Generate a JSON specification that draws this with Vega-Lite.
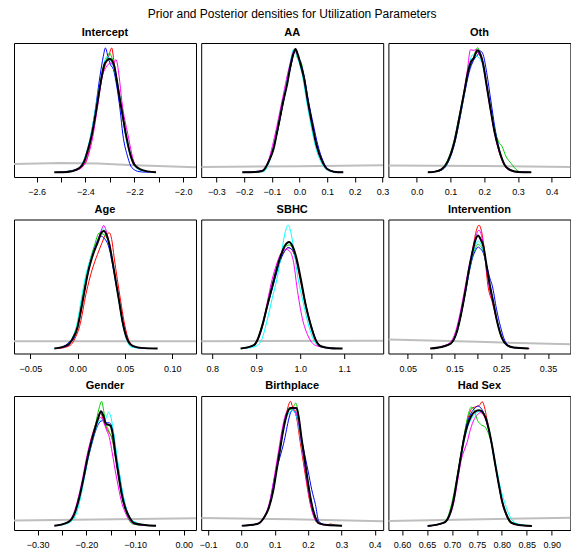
{
  "$schema": "https://vega.github.io/schema/vega-lite/v6.json",
  "padding": {"left": 13, "top": 7, "right": 0, "bottom": 0},
  "title": {"text": "Prior and Posterior densities for Utilization Parameters", "anchor": "middle", "fontSize": 12, "fontWeight": "normal", "font": "Liberation Sans", "color": "black", "offset": 6},
  "columns": 3,
  "bounds": "flush",
  "spacing": {"row": 42.5, "column": 5.2},
  "resolve": {"scale": {"x": "independent", "y": "independent"}},
  "datasets": {
    "Intercept": [
      {"c":0,"x":-2.693,"y":0.097},{"c":0,"x":-2.5,"y":0.104},{"c":0,"x":-2.35,"y":0.1},{"c":0,"x":-2.2,"y":0.088},{"c":0,"x":-1.947,"y":0.073},
      {"c":1,"x":-2.52,"y":0.035},{"c":1,"x":-2.44,"y":0.05},{"c":1,"x":-2.4,"y":0.105},{"c":1,"x":-2.375,"y":0.29},{"c":1,"x":-2.355,"y":0.5},{"c":1,"x":-2.335,"y":0.72},{"c":1,"x":-2.318,"y":0.84},{"c":1,"x":-2.305,"y":0.9},{"c":1,"x":-2.2925,"y":0.963},{"c":1,"x":-2.283,"y":0.86},{"c":1,"x":-2.272,"y":0.72},{"c":1,"x":-2.257,"y":0.56},{"c":1,"x":-2.235,"y":0.31},{"c":1,"x":-2.215,"y":0.16},{"c":1,"x":-2.195,"y":0.08},{"c":1,"x":-2.16,"y":0.045},{"c":1,"x":-2.12,"y":0.035},
      {"c":2,"x":-2.52,"y":0.035},{"c":2,"x":-2.43,"y":0.06},{"c":2,"x":-2.405,"y":0.115},{"c":2,"x":-2.375,"y":0.31},{"c":2,"x":-2.348,"y":0.6},{"c":2,"x":-2.33,"y":0.78},{"c":2,"x":-2.315,"y":0.87},{"c":2,"x":-2.302,"y":0.925},{"c":2,"x":-2.29,"y":0.88},{"c":2,"x":-2.278,"y":0.8},{"c":2,"x":-2.265,"y":0.66},{"c":2,"x":-2.252,"y":0.52},{"c":2,"x":-2.235,"y":0.32},{"c":2,"x":-2.215,"y":0.16},{"c":2,"x":-2.195,"y":0.08},{"c":2,"x":-2.15,"y":0.04},{"c":2,"x":-2.12,"y":0.035},
      {"c":3,"x":-2.51,"y":0.035},{"c":3,"x":-2.44,"y":0.055},{"c":3,"x":-2.41,"y":0.11},{"c":3,"x":-2.385,"y":0.25},{"c":3,"x":-2.36,"y":0.5},{"c":3,"x":-2.34,"y":0.76},{"c":3,"x":-2.327,"y":0.9},{"c":3,"x":-2.3185,"y":0.963},{"c":3,"x":-2.308,"y":0.9},{"c":3,"x":-2.298,"y":0.84},{"c":3,"x":-2.285,"y":0.8},{"c":3,"x":-2.272,"y":0.68},{"c":3,"x":-2.258,"y":0.5},{"c":3,"x":-2.247,"y":0.32},{"c":3,"x":-2.227,"y":0.15},{"c":3,"x":-2.21,"y":0.07},{"c":3,"x":-2.18,"y":0.04},{"c":3,"x":-2.14,"y":0.035},
      {"c":4,"x":-2.52,"y":0.035},{"c":4,"x":-2.44,"y":0.05},{"c":4,"x":-2.41,"y":0.11},{"c":4,"x":-2.38,"y":0.3},{"c":4,"x":-2.35,"y":0.6},{"c":4,"x":-2.33,"y":0.8},{"c":4,"x":-2.312,"y":0.9},{"c":4,"x":-2.298,"y":0.87},{"c":4,"x":-2.285,"y":0.82},{"c":4,"x":-2.27,"y":0.7},{"c":4,"x":-2.255,"y":0.55},{"c":4,"x":-2.235,"y":0.3},{"c":4,"x":-2.215,"y":0.15},{"c":4,"x":-2.195,"y":0.075},{"c":4,"x":-2.16,"y":0.04},{"c":4,"x":-2.12,"y":0.035},
      {"c":5,"x":-2.51,"y":0.035},{"c":5,"x":-2.43,"y":0.055},{"c":5,"x":-2.4,"y":0.11},{"c":5,"x":-2.37,"y":0.3},{"c":5,"x":-2.35,"y":0.53},{"c":5,"x":-2.33,"y":0.76},{"c":5,"x":-2.315,"y":0.82},{"c":5,"x":-2.298,"y":0.85},{"c":5,"x":-2.288,"y":0.84},{"c":5,"x":-2.275,"y":0.876},{"c":5,"x":-2.262,"y":0.75},{"c":5,"x":-2.251,"y":0.565},{"c":5,"x":-2.226,"y":0.316},{"c":5,"x":-2.202,"y":0.117},{"c":5,"x":-2.18,"y":0.06},{"c":5,"x":-2.15,"y":0.04},{"c":5,"x":-2.111,"y":0.035},
      {"c":6,"x":-2.528,"y":0.035},{"c":6,"x":-2.473,"y":0.037},{"c":6,"x":-2.425,"y":0.067},{"c":6,"x":-2.405,"y":0.117},{"c":6,"x":-2.388,"y":0.216},{"c":6,"x":-2.374,"y":0.316},{"c":6,"x":-2.359,"y":0.465},{"c":6,"x":-2.346,"y":0.614},{"c":6,"x":-2.332,"y":0.764},{"c":6,"x":-2.323,"y":0.838},{"c":6,"x":-2.312,"y":0.868},{"c":6,"x":-2.301,"y":0.883},{"c":6,"x":-2.291,"y":0.868},{"c":6,"x":-2.282,"y":0.826},{"c":6,"x":-2.271,"y":0.716},{"c":6,"x":-2.258,"y":0.567},{"c":6,"x":-2.246,"y":0.44},{"c":6,"x":-2.234,"y":0.316},{"c":6,"x":-2.216,"y":0.167},{"c":6,"x":-2.2,"y":0.092},{"c":6,"x":-2.172,"y":0.055},{"c":6,"x":-2.145,"y":0.042},{"c":6,"x":-2.111,"y":0.035}
    ],
    "AA": [
      {"c":0,"x":-0.355,"y":0.075},{"c":0,"x":0,"y":0.081},{"c":0,"x":0.302,"y":0.087},
      {"c":1,"x":-0.2,"y":0.035},{"c":1,"x":-0.13,"y":0.045},{"c":1,"x":-0.11,"y":0.12},{"c":1,"x":-0.083,"y":0.32},{"c":1,"x":-0.059,"y":0.56},{"c":1,"x":-0.033,"y":0.82},{"c":1,"x":-0.016,"y":0.95},{"c":1,"x":-0.005,"y":0.9},{"c":1,"x":0.016,"y":0.74},{"c":1,"x":0.03,"y":0.56},{"c":1,"x":0.046,"y":0.39},{"c":1,"x":0.061,"y":0.24},{"c":1,"x":0.082,"y":0.115},{"c":1,"x":0.1,"y":0.058},{"c":1,"x":0.13,"y":0.038},{"c":1,"x":0.155,"y":0.035},
      {"c":2,"x":-0.205,"y":0.035},{"c":2,"x":-0.13,"y":0.045},{"c":2,"x":-0.11,"y":0.12},{"c":2,"x":-0.083,"y":0.31},{"c":2,"x":-0.059,"y":0.56},{"c":2,"x":-0.033,"y":0.82},{"c":2,"x":-0.016,"y":0.945},{"c":2,"x":-0.006,"y":0.88},{"c":2,"x":0.004,"y":0.865},{"c":2,"x":0.016,"y":0.76},{"c":2,"x":0.03,"y":0.57},{"c":2,"x":0.046,"y":0.39},{"c":2,"x":0.061,"y":0.24},{"c":2,"x":0.082,"y":0.12},{"c":2,"x":0.1,"y":0.06},{"c":2,"x":0.13,"y":0.038},{"c":2,"x":0.155,"y":0.035},
      {"c":3,"x":-0.2,"y":0.035},{"c":3,"x":-0.13,"y":0.05},{"c":3,"x":-0.11,"y":0.125},{"c":3,"x":-0.083,"y":0.31},{"c":3,"x":-0.059,"y":0.55},{"c":3,"x":-0.033,"y":0.81},{"c":3,"x":-0.015,"y":0.945},{"c":3,"x":-0.004,"y":0.9},{"c":3,"x":0.018,"y":0.74},{"c":3,"x":0.033,"y":0.56},{"c":3,"x":0.05,"y":0.39},{"c":3,"x":0.066,"y":0.24},{"c":3,"x":0.085,"y":0.12},{"c":3,"x":0.102,"y":0.06},{"c":3,"x":0.13,"y":0.038},{"c":3,"x":0.155,"y":0.035},
      {"c":4,"x":-0.2,"y":0.035},{"c":4,"x":-0.13,"y":0.04},{"c":4,"x":-0.11,"y":0.11},{"c":4,"x":-0.084,"y":0.31},{"c":4,"x":-0.061,"y":0.56},{"c":4,"x":-0.036,"y":0.83},{"c":4,"x":-0.0205,"y":0.955},{"c":4,"x":-0.009,"y":0.9},{"c":4,"x":0.012,"y":0.74},{"c":4,"x":0.026,"y":0.56},{"c":4,"x":0.041,"y":0.39},{"c":4,"x":0.056,"y":0.24},{"c":4,"x":0.077,"y":0.115},{"c":4,"x":0.097,"y":0.055},{"c":4,"x":0.125,"y":0.037},{"c":4,"x":0.155,"y":0.035},
      {"c":5,"x":-0.205,"y":0.035},{"c":5,"x":-0.135,"y":0.045},{"c":5,"x":-0.113,"y":0.12},{"c":5,"x":-0.088,"y":0.32},{"c":5,"x":-0.064,"y":0.56},{"c":5,"x":-0.037,"y":0.82},{"c":5,"x":-0.017,"y":0.95},{"c":5,"x":-0.006,"y":0.9},{"c":5,"x":0.016,"y":0.74},{"c":5,"x":0.03,"y":0.56},{"c":5,"x":0.046,"y":0.39},{"c":5,"x":0.061,"y":0.24},{"c":5,"x":0.082,"y":0.115},{"c":5,"x":0.1,"y":0.058},{"c":5,"x":0.13,"y":0.038},{"c":5,"x":0.158,"y":0.035},
      {"c":6,"x":-0.207,"y":0.035},{"c":6,"x":-0.16,"y":0.037},{"c":6,"x":-0.135,"y":0.045},{"c":6,"x":-0.111,"y":0.117},{"c":6,"x":-0.093,"y":0.216},{"c":6,"x":-0.083,"y":0.316},{"c":6,"x":-0.071,"y":0.44},{"c":6,"x":-0.059,"y":0.565},{"c":6,"x":-0.045,"y":0.689},{"c":6,"x":-0.033,"y":0.826},{"c":6,"x":-0.023,"y":0.913},{"c":6,"x":-0.0145,"y":0.955},{"c":6,"x":-0.006,"y":0.913},{"c":6,"x":0.004,"y":0.838},{"c":6,"x":0.016,"y":0.739},{"c":6,"x":0.03,"y":0.565},{"c":6,"x":0.046,"y":0.39},{"c":6,"x":0.061,"y":0.241},{"c":6,"x":0.082,"y":0.117},{"c":6,"x":0.1,"y":0.06},{"c":6,"x":0.124,"y":0.04},{"c":6,"x":0.158,"y":0.035}
    ],
    "Oth": [
      {"c":0,"x":-0.084,"y":0.085},{"c":0,"x":0.2,"y":0.083},{"c":0,"x":0.455,"y":0.075},
      {"c":1,"x":0.035,"y":0.035},{"c":1,"x":0.072,"y":0.055},{"c":1,"x":0.092,"y":0.115},{"c":1,"x":0.112,"y":0.265},{"c":1,"x":0.126,"y":0.44},{"c":1,"x":0.141,"y":0.64},{"c":1,"x":0.155,"y":0.82},{"c":1,"x":0.165,"y":0.86},{"c":1,"x":0.173,"y":0.913},{"c":1,"x":0.182,"y":0.93},{"c":1,"x":0.19,"y":0.9},{"c":1,"x":0.198,"y":0.83},{"c":1,"x":0.207,"y":0.69},{"c":1,"x":0.219,"y":0.5},{"c":1,"x":0.231,"y":0.33},{"c":1,"x":0.245,"y":0.18},{"c":1,"x":0.26,"y":0.085},{"c":1,"x":0.28,"y":0.045},{"c":1,"x":0.3,"y":0.037},{"c":1,"x":0.335,"y":0.035},
      {"c":2,"x":0.035,"y":0.035},{"c":2,"x":0.07,"y":0.055},{"c":2,"x":0.09,"y":0.12},{"c":2,"x":0.11,"y":0.27},{"c":2,"x":0.125,"y":0.45},{"c":2,"x":0.14,"y":0.64},{"c":2,"x":0.152,"y":0.78},{"c":2,"x":0.165,"y":0.87},{"c":2,"x":0.1807,"y":0.965},{"c":2,"x":0.19,"y":0.9},{"c":2,"x":0.198,"y":0.83},{"c":2,"x":0.207,"y":0.69},{"c":2,"x":0.219,"y":0.5},{"c":2,"x":0.232,"y":0.34},{"c":2,"x":0.243,"y":0.26},{"c":2,"x":0.252,"y":0.23},{"c":2,"x":0.265,"y":0.15},{"c":2,"x":0.28,"y":0.1},{"c":2,"x":0.289,"y":0.07},{"c":2,"x":0.305,"y":0.04},{"c":2,"x":0.33,"y":0.035},
      {"c":3,"x":0.035,"y":0.035},{"c":3,"x":0.072,"y":0.05},{"c":3,"x":0.093,"y":0.11},{"c":3,"x":0.113,"y":0.26},{"c":3,"x":0.128,"y":0.44},{"c":3,"x":0.143,"y":0.64},{"c":3,"x":0.155,"y":0.78},{"c":3,"x":0.168,"y":0.87},{"c":3,"x":0.18,"y":0.91},{"c":3,"x":0.1886,"y":0.94},{"c":3,"x":0.197,"y":0.91},{"c":3,"x":0.207,"y":0.78},{"c":3,"x":0.22,"y":0.56},{"c":3,"x":0.232,"y":0.36},{"c":3,"x":0.246,"y":0.19},{"c":3,"x":0.26,"y":0.09},{"c":3,"x":0.275,"y":0.05},{"c":3,"x":0.3,"y":0.037},{"c":3,"x":0.33,"y":0.035},
      {"c":4,"x":0.035,"y":0.035},{"c":4,"x":0.072,"y":0.05},{"c":4,"x":0.092,"y":0.11},{"c":4,"x":0.112,"y":0.26},{"c":4,"x":0.127,"y":0.44},{"c":4,"x":0.142,"y":0.64},{"c":4,"x":0.155,"y":0.84},{"c":4,"x":0.166,"y":0.913},{"c":4,"x":0.178,"y":0.9},{"c":4,"x":0.19,"y":0.87},{"c":4,"x":0.2,"y":0.78},{"c":4,"x":0.21,"y":0.64},{"c":4,"x":0.222,"y":0.47},{"c":4,"x":0.234,"y":0.31},{"c":4,"x":0.248,"y":0.17},{"c":4,"x":0.262,"y":0.085},{"c":4,"x":0.28,"y":0.048},{"c":4,"x":0.3,"y":0.037},{"c":4,"x":0.335,"y":0.035},
      {"c":5,"x":0.035,"y":0.035},{"c":5,"x":0.07,"y":0.05},{"c":5,"x":0.09,"y":0.11},{"c":5,"x":0.11,"y":0.26},{"c":5,"x":0.125,"y":0.44},{"c":5,"x":0.14,"y":0.64},{"c":5,"x":0.15,"y":0.8},{"c":5,"x":0.159,"y":0.95},{"c":5,"x":0.168,"y":0.945},{"c":5,"x":0.176,"y":0.95},{"c":5,"x":0.186,"y":0.91},{"c":5,"x":0.196,"y":0.84},{"c":5,"x":0.205,"y":0.7},{"c":5,"x":0.218,"y":0.5},{"c":5,"x":0.23,"y":0.33},{"c":5,"x":0.245,"y":0.18},{"c":5,"x":0.26,"y":0.09},{"c":5,"x":0.28,"y":0.05},{"c":5,"x":0.3,"y":0.04},{"c":5,"x":0.34,"y":0.035},
      {"c":6,"x":0.0326,"y":0.035},{"c":6,"x":0.055,"y":0.04},{"c":6,"x":0.072,"y":0.055},{"c":6,"x":0.092,"y":0.117},{"c":6,"x":0.112,"y":0.266},{"c":6,"x":0.126,"y":0.44},{"c":6,"x":0.141,"y":0.639},{"c":6,"x":0.151,"y":0.776},{"c":6,"x":0.161,"y":0.863},{"c":6,"x":0.169,"y":0.888},{"c":6,"x":0.176,"y":0.933},{"c":6,"x":0.181,"y":0.945},{"c":6,"x":0.188,"y":0.918},{"c":6,"x":0.196,"y":0.851},{"c":6,"x":0.205,"y":0.714},{"c":6,"x":0.218,"y":0.515},{"c":6,"x":0.23,"y":0.341},{"c":6,"x":0.245,"y":0.192},{"c":6,"x":0.26,"y":0.092},{"c":6,"x":0.275,"y":0.055},{"c":6,"x":0.299,"y":0.037},{"c":6,"x":0.339,"y":0.035}
    ],
    "Age": [
      {"c":0,"x":-0.0672,"y":0.091},{"c":0,"x":0.125,"y":0.091},
      {"c":1,"x":-0.02,"y":0.037},{"c":1,"x":-0.008,"y":0.06},{"c":1,"x":-0.003,"y":0.11},{"c":1,"x":0.002,"y":0.2},{"c":1,"x":0.009,"y":0.45},{"c":1,"x":0.0155,"y":0.63},{"c":1,"x":0.021,"y":0.74},{"c":1,"x":0.026,"y":0.83},{"c":1,"x":0.03,"y":0.89},{"c":1,"x":0.0335,"y":0.9},{"c":1,"x":0.036,"y":0.85},{"c":1,"x":0.0385,"y":0.72},{"c":1,"x":0.042,"y":0.55},{"c":1,"x":0.0455,"y":0.39},{"c":1,"x":0.049,"y":0.24},{"c":1,"x":0.053,"y":0.12},{"c":1,"x":0.058,"y":0.06},{"c":1,"x":0.065,"y":0.042},{"c":1,"x":0.08,"y":0.037},
      {"c":2,"x":-0.022,"y":0.037},{"c":2,"x":-0.011,"y":0.062},{"c":2,"x":-0.006,"y":0.111},{"c":2,"x":-0.001,"y":0.2},{"c":2,"x":0.006,"y":0.46},{"c":2,"x":0.0125,"y":0.68},{"c":2,"x":0.0175,"y":0.8},{"c":2,"x":0.0229,"y":0.9},{"c":2,"x":0.027,"y":0.89},{"c":2,"x":0.031,"y":0.86},{"c":2,"x":0.0335,"y":0.81},{"c":2,"x":0.037,"y":0.68},{"c":2,"x":0.0405,"y":0.53},{"c":2,"x":0.044,"y":0.38},{"c":2,"x":0.0475,"y":0.23},{"c":2,"x":0.052,"y":0.11},{"c":2,"x":0.058,"y":0.055},{"c":2,"x":0.068,"y":0.04},{"c":2,"x":0.08,"y":0.037},
      {"c":3,"x":-0.022,"y":0.037},{"c":3,"x":-0.013,"y":0.06},{"c":3,"x":-0.008,"y":0.09},{"c":3,"x":-0.005,"y":0.1},{"c":3,"x":-0.002,"y":0.15},{"c":3,"x":0.002,"y":0.27},{"c":3,"x":0.007,"y":0.46},{"c":3,"x":0.0125,"y":0.66},{"c":3,"x":0.018,"y":0.79},{"c":3,"x":0.0246,"y":0.877},{"c":3,"x":0.028,"y":0.86},{"c":3,"x":0.031,"y":0.83},{"c":3,"x":0.0335,"y":0.78},{"c":3,"x":0.037,"y":0.66},{"c":3,"x":0.0405,"y":0.52},{"c":3,"x":0.044,"y":0.38},{"c":3,"x":0.0475,"y":0.23},{"c":3,"x":0.052,"y":0.11},{"c":3,"x":0.058,"y":0.055},{"c":3,"x":0.068,"y":0.04},{"c":3,"x":0.082,"y":0.037},
      {"c":4,"x":-0.025,"y":0.037},{"c":4,"x":-0.011,"y":0.06},{"c":4,"x":-0.006,"y":0.11},{"c":4,"x":-0.001,"y":0.21},{"c":4,"x":0.004,"y":0.41},{"c":4,"x":0.0085,"y":0.58},{"c":4,"x":0.0123,"y":0.68},{"c":4,"x":0.017,"y":0.77},{"c":4,"x":0.022,"y":0.86},{"c":4,"x":0.0265,"y":0.93},{"c":4,"x":0.03,"y":0.9},{"c":4,"x":0.0335,"y":0.81},{"c":4,"x":0.037,"y":0.67},{"c":4,"x":0.0405,"y":0.52},{"c":4,"x":0.044,"y":0.37},{"c":4,"x":0.0475,"y":0.22},{"c":4,"x":0.052,"y":0.1},{"c":4,"x":0.056,"y":0.05},{"c":4,"x":0.065,"y":0.04},{"c":4,"x":0.08,"y":0.037},
      {"c":5,"x":-0.022,"y":0.037},{"c":5,"x":-0.01,"y":0.06},{"c":5,"x":-0.005,"y":0.11},{"c":5,"x":0.0,"y":0.2},{"c":5,"x":0.007,"y":0.46},{"c":5,"x":0.014,"y":0.69},{"c":5,"x":0.021,"y":0.84},{"c":5,"x":0.025,"y":0.92},{"c":5,"x":0.0275,"y":0.956},{"c":5,"x":0.03,"y":0.92},{"c":5,"x":0.0335,"y":0.82},{"c":5,"x":0.037,"y":0.68},{"c":5,"x":0.0405,"y":0.53},{"c":5,"x":0.044,"y":0.38},{"c":5,"x":0.048,"y":0.23},{"c":5,"x":0.053,"y":0.1},{"c":5,"x":0.058,"y":0.055},{"c":5,"x":0.067,"y":0.04},{"c":5,"x":0.08,"y":0.037},
      {"c":6,"x":-0.0246,"y":0.037},{"c":6,"x":-0.0106,"y":0.062},{"c":6,"x":-0.0053,"y":0.111},{"c":6,"x":0.0,"y":0.198},{"c":6,"x":0.0035,"y":0.321},{"c":6,"x":0.007,"y":0.457},{"c":6,"x":0.0106,"y":0.593},{"c":6,"x":0.0141,"y":0.691},{"c":6,"x":0.0176,"y":0.765},{"c":6,"x":0.0218,"y":0.84},{"c":6,"x":0.0246,"y":0.896},{"c":6,"x":0.0275,"y":0.914},{"c":6,"x":0.031,"y":0.877},{"c":6,"x":0.0335,"y":0.815},{"c":6,"x":0.037,"y":0.679},{"c":6,"x":0.0405,"y":0.531},{"c":6,"x":0.044,"y":0.383},{"c":6,"x":0.0475,"y":0.235},{"c":6,"x":0.0521,"y":0.111},{"c":6,"x":0.0581,"y":0.057},{"c":6,"x":0.0669,"y":0.042},{"c":6,"x":0.0845,"y":0.037}
    ],
    "SBHC": [
      {"c":0,"x":0.775,"y":0.091},{"c":0,"x":1.1886,"y":0.096},
      {"c":1,"x":0.87,"y":0.037},{"c":1,"x":0.895,"y":0.062},{"c":1,"x":0.903,"y":0.1},{"c":1,"x":0.914,"y":0.21},{"c":1,"x":0.925,"y":0.36},{"c":1,"x":0.937,"y":0.5},{"c":1,"x":0.947,"y":0.62},{"c":1,"x":0.957,"y":0.72},{"c":1,"x":0.966,"y":0.77},{"c":1,"x":0.972,"y":0.79},{"c":1,"x":0.98,"y":0.78},{"c":1,"x":0.99,"y":0.7},{"c":1,"x":1.0,"y":0.55},{"c":1,"x":1.012,"y":0.36},{"c":1,"x":1.024,"y":0.21},{"c":1,"x":1.035,"y":0.1},{"c":1,"x":1.047,"y":0.055},{"c":1,"x":1.07,"y":0.04},{"c":1,"x":1.095,"y":0.037},
      {"c":2,"x":0.865,"y":0.037},{"c":2,"x":0.894,"y":0.062},{"c":2,"x":0.902,"y":0.1},{"c":2,"x":0.913,"y":0.21},{"c":2,"x":0.925,"y":0.36},{"c":2,"x":0.9367,"y":0.51},{"c":2,"x":0.9466,"y":0.63},{"c":2,"x":0.9557,"y":0.72},{"c":2,"x":0.9648,"y":0.79},{"c":2,"x":0.9747,"y":0.81},{"c":2,"x":0.9823,"y":0.79},{"c":2,"x":0.9921,"y":0.7},{"c":2,"x":1.0013,"y":0.55},{"c":2,"x":1.0127,"y":0.36},{"c":2,"x":1.024,"y":0.21},{"c":2,"x":1.0354,"y":0.1},{"c":2,"x":1.0468,"y":0.055},{"c":2,"x":1.07,"y":0.04},{"c":2,"x":1.095,"y":0.037},
      {"c":3,"x":0.87,"y":0.037},{"c":3,"x":0.895,"y":0.062},{"c":3,"x":0.903,"y":0.1},{"c":3,"x":0.915,"y":0.21},{"c":3,"x":0.926,"y":0.36},{"c":3,"x":0.938,"y":0.5},{"c":3,"x":0.948,"y":0.62},{"c":3,"x":0.958,"y":0.72},{"c":3,"x":0.966,"y":0.77},{"c":3,"x":0.9724,"y":0.79},{"c":3,"x":0.98,"y":0.78},{"c":3,"x":0.991,"y":0.7},{"c":3,"x":1.0013,"y":0.55},{"c":3,"x":1.013,"y":0.36},{"c":3,"x":1.025,"y":0.21},{"c":3,"x":1.036,"y":0.1},{"c":3,"x":1.048,"y":0.055},{"c":3,"x":1.07,"y":0.04},{"c":3,"x":1.095,"y":0.037},
      {"c":4,"x":0.87,"y":0.037},{"c":4,"x":0.9,"y":0.055},{"c":4,"x":0.912,"y":0.1},{"c":4,"x":0.925,"y":0.25},{"c":4,"x":0.937,"y":0.42},{"c":4,"x":0.9466,"y":0.55},{"c":4,"x":0.956,"y":0.72},{"c":4,"x":0.9655,"y":0.9},{"c":4,"x":0.9724,"y":0.958},{"c":4,"x":0.979,"y":0.9},{"c":4,"x":0.987,"y":0.74},{"c":4,"x":0.995,"y":0.56},{"c":4,"x":1.0055,"y":0.4},{"c":4,"x":1.016,"y":0.25},{"c":4,"x":1.028,"y":0.12},{"c":4,"x":1.04,"y":0.06},{"c":4,"x":1.06,"y":0.042},{"c":4,"x":1.095,"y":0.037},
      {"c":5,"x":0.87,"y":0.037},{"c":5,"x":0.895,"y":0.065},{"c":5,"x":0.905,"y":0.11},{"c":5,"x":0.915,"y":0.22},{"c":5,"x":0.925,"y":0.38},{"c":5,"x":0.936,"y":0.55},{"c":5,"x":0.9457,"y":0.66},{"c":5,"x":0.955,"y":0.74},{"c":5,"x":0.967,"y":0.778},{"c":5,"x":0.977,"y":0.76},{"c":5,"x":0.986,"y":0.66},{"c":5,"x":0.9921,"y":0.506},{"c":5,"x":1.005,"y":0.26},{"c":5,"x":1.018,"y":0.13},{"c":5,"x":1.035,"y":0.06},{"c":5,"x":1.07,"y":0.04},{"c":5,"x":1.095,"y":0.037},
      {"c":6,"x":0.8646,"y":0.037},{"c":6,"x":0.8949,"y":0.062},{"c":6,"x":0.9025,"y":0.099},{"c":6,"x":0.9139,"y":0.21},{"c":6,"x":0.9253,"y":0.358},{"c":6,"x":0.9367,"y":0.506},{"c":6,"x":0.9466,"y":0.63},{"c":6,"x":0.9557,"y":0.728},{"c":6,"x":0.9648,"y":0.802},{"c":6,"x":0.9747,"y":0.832},{"c":6,"x":0.9823,"y":0.802},{"c":6,"x":0.9921,"y":0.704},{"c":6,"x":1.0013,"y":0.556},{"c":6,"x":1.0127,"y":0.358},{"c":6,"x":1.024,"y":0.21},{"c":6,"x":1.0354,"y":0.099},{"c":6,"x":1.0468,"y":0.054},{"c":6,"x":1.0696,"y":0.04},{"c":6,"x":1.0962,"y":0.037}
    ],
    "Intervention": [
      {"c":0,"x":0.0087,"y":0.104},{"c":0,"x":0.2,"y":0.087},{"c":0,"x":0.398,"y":0.069},
      {"c":1,"x":0.1,"y":0.037},{"c":1,"x":0.128,"y":0.054},{"c":1,"x":0.142,"y":0.074},{"c":1,"x":0.155,"y":0.16},{"c":1,"x":0.164,"y":0.29},{"c":1,"x":0.175,"y":0.49},{"c":1,"x":0.182,"y":0.64},{"c":1,"x":0.19,"y":0.8},{"c":1,"x":0.197,"y":0.92},{"c":1,"x":0.2025,"y":0.958},{"c":1,"x":0.208,"y":0.91},{"c":1,"x":0.213,"y":0.8},{"c":1,"x":0.2216,"y":0.506},{"c":1,"x":0.231,"y":0.383},{"c":1,"x":0.241,"y":0.24},{"c":1,"x":0.252,"y":0.11},{"c":1,"x":0.263,"y":0.06},{"c":1,"x":0.28,"y":0.042},{"c":1,"x":0.31,"y":0.037},
      {"c":2,"x":0.1,"y":0.037},{"c":2,"x":0.128,"y":0.054},{"c":2,"x":0.142,"y":0.074},{"c":2,"x":0.155,"y":0.16},{"c":2,"x":0.1635,"y":0.28},{"c":2,"x":0.1741,"y":0.47},{"c":2,"x":0.1812,"y":0.61},{"c":2,"x":0.1883,"y":0.72},{"c":2,"x":0.1954,"y":0.79},{"c":2,"x":0.2004,"y":0.815},{"c":2,"x":0.206,"y":0.8},{"c":2,"x":0.2117,"y":0.76},{"c":2,"x":0.2188,"y":0.64},{"c":2,"x":0.2259,"y":0.51},{"c":2,"x":0.233,"y":0.39},{"c":2,"x":0.2415,"y":0.24},{"c":2,"x":0.252,"y":0.115},{"c":2,"x":0.263,"y":0.063},{"c":2,"x":0.277,"y":0.044},{"c":2,"x":0.305,"y":0.037},
      {"c":3,"x":0.1,"y":0.037},{"c":3,"x":0.128,"y":0.054},{"c":3,"x":0.142,"y":0.074},{"c":3,"x":0.155,"y":0.16},{"c":3,"x":0.1635,"y":0.28},{"c":3,"x":0.1741,"y":0.47},{"c":3,"x":0.1812,"y":0.6},{"c":3,"x":0.1883,"y":0.71},{"c":3,"x":0.1954,"y":0.77},{"c":3,"x":0.2004,"y":0.795},{"c":3,"x":0.206,"y":0.78},{"c":3,"x":0.2117,"y":0.75},{"c":3,"x":0.2188,"y":0.66},{"c":3,"x":0.2259,"y":0.56},{"c":3,"x":0.2309,"y":0.506},{"c":3,"x":0.24,"y":0.33},{"c":3,"x":0.2485,"y":0.2},{"c":3,"x":0.256,"y":0.111},{"c":3,"x":0.266,"y":0.06},{"c":3,"x":0.28,"y":0.042},{"c":3,"x":0.305,"y":0.037},
      {"c":4,"x":0.1,"y":0.037},{"c":4,"x":0.128,"y":0.054},{"c":4,"x":0.142,"y":0.074},{"c":4,"x":0.155,"y":0.16},{"c":4,"x":0.1635,"y":0.28},{"c":4,"x":0.1741,"y":0.47},{"c":4,"x":0.1812,"y":0.61},{"c":4,"x":0.1883,"y":0.73},{"c":4,"x":0.1954,"y":0.81},{"c":4,"x":0.2004,"y":0.84},{"c":4,"x":0.206,"y":0.82},{"c":4,"x":0.2117,"y":0.77},{"c":4,"x":0.2188,"y":0.64},{"c":4,"x":0.2259,"y":0.5},{"c":4,"x":0.233,"y":0.38},{"c":4,"x":0.2415,"y":0.23},{"c":4,"x":0.252,"y":0.11},{"c":4,"x":0.263,"y":0.06},{"c":4,"x":0.277,"y":0.043},{"c":4,"x":0.305,"y":0.037},
      {"c":5,"x":0.098,"y":0.037},{"c":5,"x":0.125,"y":0.056},{"c":5,"x":0.14,"y":0.08},{"c":5,"x":0.153,"y":0.17},{"c":5,"x":0.162,"y":0.3},{"c":5,"x":0.173,"y":0.5},{"c":5,"x":0.181,"y":0.65},{"c":5,"x":0.189,"y":0.78},{"c":5,"x":0.196,"y":0.88},{"c":5,"x":0.2025,"y":0.92},{"c":5,"x":0.208,"y":0.88},{"c":5,"x":0.213,"y":0.78},{"c":5,"x":0.219,"y":0.62},{"c":5,"x":0.224,"y":0.5},{"c":5,"x":0.232,"y":0.38},{"c":5,"x":0.241,"y":0.24},{"c":5,"x":0.252,"y":0.11},{"c":5,"x":0.262,"y":0.06},{"c":5,"x":0.28,"y":0.042},{"c":5,"x":0.31,"y":0.037},
      {"c":6,"x":0.0982,"y":0.037},{"c":6,"x":0.128,"y":0.054},{"c":6,"x":0.1422,"y":0.074},{"c":6,"x":0.155,"y":0.16},{"c":6,"x":0.1635,"y":0.284},{"c":6,"x":0.1741,"y":0.481},{"c":6,"x":0.1812,"y":0.63},{"c":6,"x":0.1883,"y":0.753},{"c":6,"x":0.1954,"y":0.852},{"c":6,"x":0.2004,"y":0.881},{"c":6,"x":0.206,"y":0.852},{"c":6,"x":0.2117,"y":0.802},{"c":6,"x":0.2188,"y":0.654},{"c":6,"x":0.2259,"y":0.506},{"c":6,"x":0.233,"y":0.383},{"c":6,"x":0.2415,"y":0.235},{"c":6,"x":0.2521,"y":0.111},{"c":6,"x":0.2628,"y":0.062},{"c":6,"x":0.277,"y":0.044},{"c":6,"x":0.3089,"y":0.037}
    ],
    "Gender": [
      {"c":0,"x":-0.3487,"y":0.07},{"c":0,"x":0.0253,"y":0.087},
      {"c":1,"x":-0.264,"y":0.032},{"c":1,"x":-0.238,"y":0.06},{"c":1,"x":-0.2247,"y":0.125},{"c":1,"x":-0.215,"y":0.25},{"c":1,"x":-0.206,"y":0.4},{"c":1,"x":-0.198,"y":0.55},{"c":1,"x":-0.19,"y":0.68},{"c":1,"x":-0.182,"y":0.78},{"c":1,"x":-0.176,"y":0.84},{"c":1,"x":-0.1712,"y":0.878},{"c":1,"x":-0.166,"y":0.83},{"c":1,"x":-0.1596,"y":0.77},{"c":1,"x":-0.1541,"y":0.73},{"c":1,"x":-0.147,"y":0.68},{"c":1,"x":-0.141,"y":0.56},{"c":1,"x":-0.1342,"y":0.41},{"c":1,"x":-0.1274,"y":0.265},{"c":1,"x":-0.1205,"y":0.165},{"c":1,"x":-0.1116,"y":0.09},{"c":1,"x":-0.1014,"y":0.048},{"c":1,"x":-0.08,"y":0.036},{"c":1,"x":-0.057,"y":0.032},
      {"c":2,"x":-0.26,"y":0.032},{"c":2,"x":-0.238,"y":0.057},{"c":2,"x":-0.2247,"y":0.12},{"c":2,"x":-0.2144,"y":0.245},{"c":2,"x":-0.2055,"y":0.39},{"c":2,"x":-0.1973,"y":0.54},{"c":2,"x":-0.189,"y":0.67},{"c":2,"x":-0.181,"y":0.79},{"c":2,"x":-0.1745,"y":0.9},{"c":2,"x":-0.1685,"y":0.96},{"c":2,"x":-0.164,"y":0.88},{"c":2,"x":-0.16,"y":0.8},{"c":2,"x":-0.154,"y":0.74},{"c":2,"x":-0.147,"y":0.68},{"c":2,"x":-0.1404,"y":0.56},{"c":2,"x":-0.1342,"y":0.41},{"c":2,"x":-0.1274,"y":0.26},{"c":2,"x":-0.1205,"y":0.16},{"c":2,"x":-0.113,"y":0.08},{"c":2,"x":-0.105,"y":0.045},{"c":2,"x":-0.085,"y":0.035},{"c":2,"x":-0.06,"y":0.032},
      {"c":3,"x":-0.265,"y":0.032},{"c":3,"x":-0.238,"y":0.057},{"c":3,"x":-0.225,"y":0.12},{"c":3,"x":-0.2144,"y":0.24},{"c":3,"x":-0.2055,"y":0.38},{"c":3,"x":-0.1973,"y":0.52},{"c":3,"x":-0.189,"y":0.64},{"c":3,"x":-0.181,"y":0.74},{"c":3,"x":-0.1735,"y":0.8},{"c":3,"x":-0.1664,"y":0.816},{"c":3,"x":-0.16,"y":0.8},{"c":3,"x":-0.153,"y":0.8},{"c":3,"x":-0.1459,"y":0.754},{"c":3,"x":-0.139,"y":0.567},{"c":3,"x":-0.1323,"y":0.42},{"c":3,"x":-0.1255,"y":0.27},{"c":3,"x":-0.1185,"y":0.165},{"c":3,"x":-0.11,"y":0.09},{"c":3,"x":-0.1,"y":0.05},{"c":3,"x":-0.08,"y":0.036},{"c":3,"x":-0.06,"y":0.032},
      {"c":4,"x":-0.26,"y":0.032},{"c":4,"x":-0.235,"y":0.055},{"c":4,"x":-0.222,"y":0.11},{"c":4,"x":-0.212,"y":0.24},{"c":4,"x":-0.204,"y":0.39},{"c":4,"x":-0.196,"y":0.54},{"c":4,"x":-0.188,"y":0.66},{"c":4,"x":-0.18,"y":0.76},{"c":4,"x":-0.172,"y":0.82},{"c":4,"x":-0.165,"y":0.82},{"c":4,"x":-0.16,"y":0.83},{"c":4,"x":-0.1548,"y":0.878},{"c":4,"x":-0.15,"y":0.85},{"c":4,"x":-0.145,"y":0.75},{"c":4,"x":-0.139,"y":0.6},{"c":4,"x":-0.1323,"y":0.43},{"c":4,"x":-0.1255,"y":0.28},{"c":4,"x":-0.118,"y":0.16},{"c":4,"x":-0.11,"y":0.09},{"c":4,"x":-0.1,"y":0.06},{"c":4,"x":-0.085,"y":0.04},{"c":4,"x":-0.058,"y":0.032},
      {"c":5,"x":-0.26,"y":0.032},{"c":5,"x":-0.238,"y":0.06},{"c":5,"x":-0.226,"y":0.125},{"c":5,"x":-0.216,"y":0.25},{"c":5,"x":-0.207,"y":0.4},{"c":5,"x":-0.199,"y":0.55},{"c":5,"x":-0.191,"y":0.67},{"c":5,"x":-0.183,"y":0.76},{"c":5,"x":-0.176,"y":0.82},{"c":5,"x":-0.1699,"y":0.841},{"c":5,"x":-0.164,"y":0.8},{"c":5,"x":-0.158,"y":0.74},{"c":5,"x":-0.1527,"y":0.69},{"c":5,"x":-0.147,"y":0.58},{"c":5,"x":-0.141,"y":0.45},{"c":5,"x":-0.1342,"y":0.32},{"c":5,"x":-0.127,"y":0.2},{"c":5,"x":-0.12,"y":0.13},{"c":5,"x":-0.112,"y":0.075},{"c":5,"x":-0.1,"y":0.045},{"c":5,"x":-0.08,"y":0.035},{"c":5,"x":-0.058,"y":0.032},
      {"c":6,"x":-0.2658,"y":0.032},{"c":6,"x":-0.2384,"y":0.057},{"c":6,"x":-0.2247,"y":0.119},{"c":6,"x":-0.2144,"y":0.244},{"c":6,"x":-0.2055,"y":0.393},{"c":6,"x":-0.1973,"y":0.542},{"c":6,"x":-0.189,"y":0.667},{"c":6,"x":-0.1815,"y":0.766},{"c":6,"x":-0.1753,"y":0.841},{"c":6,"x":-0.1699,"y":0.886},{"c":6,"x":-0.1644,"y":0.846},{"c":6,"x":-0.1596,"y":0.791},{"c":6,"x":-0.1507,"y":0.779},{"c":6,"x":-0.1459,"y":0.716},{"c":6,"x":-0.1404,"y":0.567},{"c":6,"x":-0.1342,"y":0.418},{"c":6,"x":-0.1274,"y":0.269},{"c":6,"x":-0.1205,"y":0.169},{"c":6,"x":-0.1116,"y":0.095},{"c":6,"x":-0.1014,"y":0.05},{"c":6,"x":-0.0808,"y":0.037},{"c":6,"x":-0.0568,"y":0.032}
    ],
    "Birthplace": [
      {"c":0,"x":-0.121,"y":0.09},{"c":0,"x":0.15,"y":0.08},{"c":0,"x":0.4255,"y":0.065},
      {"c":1,"x":0.002,"y":0.0325},{"c":1,"x":0.047,"y":0.045},{"c":1,"x":0.067,"y":0.09},{"c":1,"x":0.082,"y":0.17},{"c":1,"x":0.095,"y":0.3},{"c":1,"x":0.105,"y":0.45},{"c":1,"x":0.115,"y":0.6},{"c":1,"x":0.125,"y":0.75},{"c":1,"x":0.135,"y":0.87},{"c":1,"x":0.141,"y":0.93},{"c":1,"x":0.147,"y":0.96},{"c":1,"x":0.152,"y":0.93},{"c":1,"x":0.156,"y":0.9},{"c":1,"x":0.162,"y":0.88},{"c":1,"x":0.168,"y":0.8},{"c":1,"x":0.176,"y":0.66},{"c":1,"x":0.186,"y":0.5},{"c":1,"x":0.196,"y":0.34},{"c":1,"x":0.206,"y":0.2},{"c":1,"x":0.216,"y":0.11},{"c":1,"x":0.23,"y":0.05},{"c":1,"x":0.255,"y":0.037},{"c":1,"x":0.267,"y":0.045},{"c":1,"x":0.28,"y":0.037},{"c":1,"x":0.3,"y":0.0325},
      {"c":2,"x":0.005,"y":0.0325},{"c":2,"x":0.047,"y":0.045},{"c":2,"x":0.067,"y":0.09},{"c":2,"x":0.082,"y":0.165},{"c":2,"x":0.095,"y":0.29},{"c":2,"x":0.105,"y":0.44},{"c":2,"x":0.115,"y":0.59},{"c":2,"x":0.125,"y":0.74},{"c":2,"x":0.135,"y":0.85},{"c":2,"x":0.145,"y":0.9},{"c":2,"x":0.152,"y":0.9},{"c":2,"x":0.158,"y":0.93},{"c":2,"x":0.163,"y":0.948},{"c":2,"x":0.168,"y":0.91},{"c":2,"x":0.174,"y":0.8},{"c":2,"x":0.182,"y":0.66},{"c":2,"x":0.19,"y":0.52},{"c":2,"x":0.2,"y":0.36},{"c":2,"x":0.21,"y":0.21},{"c":2,"x":0.22,"y":0.11},{"c":2,"x":0.233,"y":0.05},{"c":2,"x":0.26,"y":0.037},{"c":2,"x":0.3,"y":0.0325},
      {"c":3,"x":0.01,"y":0.0325},{"c":3,"x":0.047,"y":0.045},{"c":3,"x":0.067,"y":0.09},{"c":3,"x":0.082,"y":0.17},{"c":3,"x":0.097,"y":0.365},{"c":3,"x":0.125,"y":0.63},{"c":3,"x":0.153,"y":0.895},{"c":3,"x":0.162,"y":0.87},{"c":3,"x":0.17,"y":0.8},{"c":3,"x":0.18,"y":0.68},{"c":3,"x":0.19,"y":0.56},{"c":3,"x":0.2,"y":0.44},{"c":3,"x":0.211,"y":0.3},{"c":3,"x":0.222,"y":0.19},{"c":3,"x":0.232,"y":0.065},{"c":3,"x":0.25,"y":0.04},{"c":3,"x":0.29,"y":0.0325},
      {"c":4,"x":0.0,"y":0.0325},{"c":4,"x":0.047,"y":0.045},{"c":4,"x":0.067,"y":0.09},{"c":4,"x":0.082,"y":0.165},{"c":4,"x":0.095,"y":0.29},{"c":4,"x":0.105,"y":0.44},{"c":4,"x":0.115,"y":0.59},{"c":4,"x":0.125,"y":0.74},{"c":4,"x":0.135,"y":0.84},{"c":4,"x":0.145,"y":0.88},{"c":4,"x":0.152,"y":0.895},{"c":4,"x":0.16,"y":0.88},{"c":4,"x":0.168,"y":0.82},{"c":4,"x":0.176,"y":0.7},{"c":4,"x":0.186,"y":0.54},{"c":4,"x":0.197,"y":0.37},{"c":4,"x":0.207,"y":0.22},{"c":4,"x":0.218,"y":0.115},{"c":4,"x":0.23,"y":0.055},{"c":4,"x":0.255,"y":0.038},{"c":4,"x":0.3,"y":0.0325},
      {"c":5,"x":0.0,"y":0.0325},{"c":5,"x":0.045,"y":0.045},{"c":5,"x":0.065,"y":0.09},{"c":5,"x":0.08,"y":0.17},{"c":5,"x":0.092,"y":0.3},{"c":5,"x":0.102,"y":0.45},{"c":5,"x":0.112,"y":0.6},{"c":5,"x":0.122,"y":0.75},{"c":5,"x":0.132,"y":0.86},{"c":5,"x":0.142,"y":0.9},{"c":5,"x":0.152,"y":0.91},{"c":5,"x":0.162,"y":0.89},{"c":5,"x":0.17,"y":0.82},{"c":5,"x":0.178,"y":0.68},{"c":5,"x":0.187,"y":0.52},{"c":5,"x":0.197,"y":0.35},{"c":5,"x":0.207,"y":0.2},{"c":5,"x":0.217,"y":0.1},{"c":5,"x":0.23,"y":0.05},{"c":5,"x":0.255,"y":0.037},{"c":5,"x":0.3,"y":0.0325},
      {"c":6,"x":0.002,"y":0.0325},{"c":6,"x":0.047,"y":0.045},{"c":6,"x":0.067,"y":0.09},{"c":6,"x":0.082,"y":0.165},{"c":6,"x":0.095,"y":0.29},{"c":6,"x":0.105,"y":0.44},{"c":6,"x":0.115,"y":0.59},{"c":6,"x":0.125,"y":0.74},{"c":6,"x":0.135,"y":0.853},{"c":6,"x":0.143,"y":0.903},{"c":6,"x":0.147,"y":0.91},{"c":6,"x":0.165,"y":0.91},{"c":6,"x":0.172,"y":0.84},{"c":6,"x":0.18,"y":0.69},{"c":6,"x":0.189,"y":0.54},{"c":6,"x":0.199,"y":0.365},{"c":6,"x":0.209,"y":0.215},{"c":6,"x":0.219,"y":0.115},{"c":6,"x":0.232,"y":0.052},{"c":6,"x":0.257,"y":0.037},{"c":6,"x":0.302,"y":0.0325}
    ],
    "HadSex": [
      {"c":0,"x":0.5727,"y":0.067},{"c":0,"x":0.9373,"y":0.092},
      {"c":1,"x":0.655,"y":0.03},{"c":1,"x":0.684,"y":0.055},{"c":1,"x":0.694,"y":0.105},{"c":1,"x":0.703,"y":0.22},{"c":1,"x":0.711,"y":0.4},{"c":1,"x":0.7175,"y":0.55},{"c":1,"x":0.7241,"y":0.7},{"c":1,"x":0.731,"y":0.82},{"c":1,"x":0.7407,"y":0.91},{"c":1,"x":0.748,"y":0.92},{"c":1,"x":0.755,"y":0.93},{"c":1,"x":0.7606,"y":0.958},{"c":1,"x":0.765,"y":0.92},{"c":1,"x":0.77,"y":0.83},{"c":1,"x":0.776,"y":0.72},{"c":1,"x":0.782,"y":0.6},{"c":1,"x":0.788,"y":0.46},{"c":1,"x":0.794,"y":0.33},{"c":1,"x":0.8,"y":0.21},{"c":1,"x":0.808,"y":0.115},{"c":1,"x":0.817,"y":0.055},{"c":1,"x":0.833,"y":0.037},{"c":1,"x":0.855,"y":0.03},
      {"c":2,"x":0.652,"y":0.03},{"c":2,"x":0.683,"y":0.058},{"c":2,"x":0.693,"y":0.11},{"c":2,"x":0.7015,"y":0.23},{"c":2,"x":0.7122,"y":0.44},{"c":2,"x":0.7195,"y":0.6},{"c":2,"x":0.726,"y":0.74},{"c":2,"x":0.7325,"y":0.86},{"c":2,"x":0.7387,"y":0.918},{"c":2,"x":0.745,"y":0.89},{"c":2,"x":0.751,"y":0.82},{"c":2,"x":0.7573,"y":0.789},{"c":2,"x":0.7673,"y":0.764},{"c":2,"x":0.774,"y":0.71},{"c":2,"x":0.7805,"y":0.62},{"c":2,"x":0.7872,"y":0.48},{"c":2,"x":0.7938,"y":0.34},{"c":2,"x":0.8004,"y":0.22},{"c":2,"x":0.809,"y":0.12},{"c":2,"x":0.82,"y":0.06},{"c":2,"x":0.835,"y":0.04},{"c":2,"x":0.86,"y":0.03},
      {"c":3,"x":0.652,"y":0.03},{"c":3,"x":0.684,"y":0.055},{"c":3,"x":0.694,"y":0.104},{"c":3,"x":0.703,"y":0.22},{"c":3,"x":0.711,"y":0.4},{"c":3,"x":0.7175,"y":0.55},{"c":3,"x":0.7241,"y":0.69},{"c":3,"x":0.7307,"y":0.8},{"c":3,"x":0.738,"y":0.87},{"c":3,"x":0.746,"y":0.91},{"c":3,"x":0.752,"y":0.925},{"c":3,"x":0.758,"y":0.91},{"c":3,"x":0.765,"y":0.86},{"c":3,"x":0.772,"y":0.77},{"c":3,"x":0.779,"y":0.65},{"c":3,"x":0.786,"y":0.5},{"c":3,"x":0.793,"y":0.36},{"c":3,"x":0.8,"y":0.22},{"c":3,"x":0.808,"y":0.12},{"c":3,"x":0.817,"y":0.06},{"c":3,"x":0.833,"y":0.04},{"c":3,"x":0.855,"y":0.03},
      {"c":4,"x":0.653,"y":0.03},{"c":4,"x":0.684,"y":0.055},{"c":4,"x":0.694,"y":0.104},{"c":4,"x":0.703,"y":0.216},{"c":4,"x":0.711,"y":0.39},{"c":4,"x":0.7175,"y":0.53},{"c":4,"x":0.7241,"y":0.66},{"c":4,"x":0.7307,"y":0.76},{"c":4,"x":0.739,"y":0.83},{"c":4,"x":0.748,"y":0.87},{"c":4,"x":0.757,"y":0.89},{"c":4,"x":0.764,"y":0.87},{"c":4,"x":0.771,"y":0.8},{"c":4,"x":0.778,"y":0.69},{"c":4,"x":0.785,"y":0.55},{"c":4,"x":0.792,"y":0.41},{"c":4,"x":0.7995,"y":0.28},{"c":4,"x":0.807,"y":0.19},{"c":4,"x":0.815,"y":0.11},{"c":4,"x":0.824,"y":0.06},{"c":4,"x":0.838,"y":0.04},{"c":4,"x":0.86,"y":0.03},
      {"c":5,"x":0.655,"y":0.03},{"c":5,"x":0.685,"y":0.055},{"c":5,"x":0.695,"y":0.1},{"c":5,"x":0.704,"y":0.21},{"c":5,"x":0.712,"y":0.38},{"c":5,"x":0.7185,"y":0.52},{"c":5,"x":0.7241,"y":0.59},{"c":5,"x":0.73,"y":0.65},{"c":5,"x":0.737,"y":0.75},{"c":5,"x":0.745,"y":0.83},{"c":5,"x":0.751,"y":0.86},{"c":5,"x":0.757,"y":0.876},{"c":5,"x":0.763,"y":0.86},{"c":5,"x":0.769,"y":0.81},{"c":5,"x":0.775,"y":0.73},{"c":5,"x":0.7815,"y":0.61},{"c":5,"x":0.788,"y":0.47},{"c":5,"x":0.7945,"y":0.33},{"c":5,"x":0.801,"y":0.21},{"c":5,"x":0.809,"y":0.115},{"c":5,"x":0.818,"y":0.055},{"c":5,"x":0.834,"y":0.037},{"c":5,"x":0.858,"y":0.03},
      {"c":6,"x":0.6511,"y":0.03},{"c":6,"x":0.6843,"y":0.055},{"c":6,"x":0.6942,"y":0.104},{"c":6,"x":0.7029,"y":0.216},{"c":6,"x":0.7108,"y":0.391},{"c":6,"x":0.7175,"y":0.54},{"c":6,"x":0.7241,"y":0.677},{"c":6,"x":0.7307,"y":0.776},{"c":6,"x":0.7387,"y":0.851},{"c":6,"x":0.746,"y":0.883},{"c":6,"x":0.754,"y":0.893},{"c":6,"x":0.7606,"y":0.883},{"c":6,"x":0.7673,"y":0.838},{"c":6,"x":0.7739,"y":0.751},{"c":6,"x":0.7805,"y":0.627},{"c":6,"x":0.7872,"y":0.478},{"c":6,"x":0.7938,"y":0.341},{"c":6,"x":0.8004,"y":0.216},{"c":6,"x":0.8091,"y":0.117},{"c":6,"x":0.8184,"y":0.055},{"c":6,"x":0.8336,"y":0.037},{"c":6,"x":0.8602,"y":0.03}
    ]
  },
  "concat": [
    {"title": "Intercept", "width": 182, "height": 134, "data": {"name": "Intercept"},
     "encoding": {"x": {"field": "x", "type": "quantitative", "title": null, "scale": {"domain": [-2.693, -1.947], "nice": false, "zero": false}, "axis": {"values": [-2.6, -2.5, -2.4, -2.3, -2.2, -2.1, -2.0], "labelExpr": "abs(round(datum.value*10))%2==0 ? format(datum.value,'.1f') : ''"}},
                  "y": {"field": "y", "type": "quantitative", "scale": {"domain": [0, 1]}, "axis": null}},
     "layer": [
       {"transform": [{"filter": "datum.c==0"}], "mark": {"type": "line", "color": "#BEBEBE", "strokeWidth": 2, "clip": true}},
       {"transform": [{"filter": "datum.c>=1 && datum.c<=5"}], "mark": {"type": "line", "interpolate": "monotone", "strokeWidth": 1, "clip": true}, "encoding": {"color": {"field": "c", "type": "nominal", "legend": null}}},
       {"transform": [{"filter": "datum.c==6"}], "mark": {"type": "line", "interpolate": "monotone", "color": "black", "strokeWidth": 2, "clip": true}}
     ]},
    {"title": "AA", "width": 182, "height": 134, "data": {"name": "AA"},
     "encoding": {"x": {"field": "x", "type": "quantitative", "title": null, "scale": {"domain": [-0.3553, 0.3024], "nice": false, "zero": false}, "axis": {"values": [-0.3, -0.2, -0.1, 0, 0.1, 0.2, 0.3], "format": ".1f"}},
                  "y": {"field": "y", "type": "quantitative", "scale": {"domain": [0, 1]}, "axis": null}},
     "layer": [
       {"transform": [{"filter": "datum.c==0"}], "mark": {"type": "line", "color": "#BEBEBE", "strokeWidth": 2, "clip": true}},
       {"transform": [{"filter": "datum.c>=1 && datum.c<=5"}], "mark": {"type": "line", "interpolate": "monotone", "strokeWidth": 1, "clip": true}, "encoding": {"color": {"field": "c", "type": "nominal", "legend": null}}},
       {"transform": [{"filter": "datum.c==6"}], "mark": {"type": "line", "interpolate": "monotone", "color": "black", "strokeWidth": 2, "clip": true}}
     ]},
    {"title": "Oth", "width": 182, "height": 134, "data": {"name": "Oth"},
     "encoding": {"x": {"field": "x", "type": "quantitative", "title": null, "scale": {"domain": [-0.0841, 0.4551], "nice": false, "zero": false}, "axis": {"values": [0, 0.1, 0.2, 0.3, 0.4], "format": ".1f"}},
                  "y": {"field": "y", "type": "quantitative", "scale": {"domain": [0, 1]}, "axis": null}},
     "layer": [
       {"transform": [{"filter": "datum.c==0"}], "mark": {"type": "line", "color": "#BEBEBE", "strokeWidth": 2, "clip": true}},
       {"transform": [{"filter": "datum.c>=1 && datum.c<=5"}], "mark": {"type": "line", "interpolate": "monotone", "strokeWidth": 1, "clip": true}, "encoding": {"color": {"field": "c", "type": "nominal", "legend": null}}},
       {"transform": [{"filter": "datum.c==6"}], "mark": {"type": "line", "interpolate": "monotone", "color": "black", "strokeWidth": 2, "clip": true}}
     ]},
    {"title": "Age", "width": 182, "height": 134, "data": {"name": "Age"},
     "encoding": {"x": {"field": "x", "type": "quantitative", "title": null, "scale": {"domain": [-0.0672, 0.125], "nice": false, "zero": false}, "axis": {"values": [-0.05, 0, 0.05, 0.1], "format": ".2f"}},
                  "y": {"field": "y", "type": "quantitative", "scale": {"domain": [0, 1]}, "axis": null}},
     "layer": [
       {"transform": [{"filter": "datum.c==0"}], "mark": {"type": "line", "color": "#BEBEBE", "strokeWidth": 2, "clip": true}},
       {"transform": [{"filter": "datum.c>=1 && datum.c<=5"}], "mark": {"type": "line", "interpolate": "monotone", "strokeWidth": 1, "clip": true}, "encoding": {"color": {"field": "c", "type": "nominal", "legend": null}}},
       {"transform": [{"filter": "datum.c==6"}], "mark": {"type": "line", "interpolate": "monotone", "color": "black", "strokeWidth": 2, "clip": true}}
     ]},
    {"title": "SBHC", "width": 182, "height": 134, "data": {"name": "SBHC"},
     "encoding": {"x": {"field": "x", "type": "quantitative", "title": null, "scale": {"domain": [0.775, 1.1886], "nice": false, "zero": false}, "axis": {"values": [0.8, 0.9, 1.0, 1.1], "format": ".1f"}},
                  "y": {"field": "y", "type": "quantitative", "scale": {"domain": [0, 1]}, "axis": null}},
     "layer": [
       {"transform": [{"filter": "datum.c==0"}], "mark": {"type": "line", "color": "#BEBEBE", "strokeWidth": 2, "clip": true}},
       {"transform": [{"filter": "datum.c>=1 && datum.c<=5"}], "mark": {"type": "line", "interpolate": "monotone", "strokeWidth": 1, "clip": true}, "encoding": {"color": {"field": "c", "type": "nominal", "legend": null}}},
       {"transform": [{"filter": "datum.c==6"}], "mark": {"type": "line", "interpolate": "monotone", "color": "black", "strokeWidth": 2, "clip": true}}
     ]},
    {"title": "Intervention", "width": 182, "height": 134, "data": {"name": "Intervention"},
     "encoding": {"x": {"field": "x", "type": "quantitative", "title": null, "scale": {"domain": [0.0087, 0.398], "nice": false, "zero": false}, "axis": {"values": [0.05, 0.1, 0.15, 0.2, 0.25, 0.3, 0.35], "labelExpr": "round(datum.value*20)%2==1 ? format(datum.value,'.2f') : ''"}},
                  "y": {"field": "y", "type": "quantitative", "scale": {"domain": [0, 1]}, "axis": null}},
     "layer": [
       {"transform": [{"filter": "datum.c==0"}], "mark": {"type": "line", "color": "#BEBEBE", "strokeWidth": 2, "clip": true}},
       {"transform": [{"filter": "datum.c>=1 && datum.c<=5"}], "mark": {"type": "line", "interpolate": "monotone", "strokeWidth": 1, "clip": true}, "encoding": {"color": {"field": "c", "type": "nominal", "legend": null}}},
       {"transform": [{"filter": "datum.c==6"}], "mark": {"type": "line", "interpolate": "monotone", "color": "black", "strokeWidth": 2, "clip": true}}
     ]},
    {"title": "Gender", "width": 182, "height": 134, "data": {"name": "Gender"},
     "encoding": {"x": {"field": "x", "type": "quantitative", "title": null, "scale": {"domain": [-0.3487, 0.0253], "nice": false, "zero": false}, "axis": {"values": [-0.3, -0.25, -0.2, -0.15, -0.1, -0.05, 0], "labelExpr": "abs(round(datum.value*20))%2==0 ? format(datum.value,'.2f') : ''"}},
                  "y": {"field": "y", "type": "quantitative", "scale": {"domain": [0, 1]}, "axis": null}},
     "layer": [
       {"transform": [{"filter": "datum.c==0"}], "mark": {"type": "line", "color": "#BEBEBE", "strokeWidth": 2, "clip": true}},
       {"transform": [{"filter": "datum.c>=1 && datum.c<=5"}], "mark": {"type": "line", "interpolate": "monotone", "strokeWidth": 1, "clip": true}, "encoding": {"color": {"field": "c", "type": "nominal", "legend": null}}},
       {"transform": [{"filter": "datum.c==6"}], "mark": {"type": "line", "interpolate": "monotone", "color": "black", "strokeWidth": 2, "clip": true}}
     ]},
    {"title": "Birthplace", "width": 182, "height": 134, "data": {"name": "Birthplace"},
     "encoding": {"x": {"field": "x", "type": "quantitative", "title": null, "scale": {"domain": [-0.121, 0.4255], "nice": false, "zero": false}, "axis": {"values": [-0.1, 0, 0.1, 0.2, 0.3, 0.4], "format": ".1f"}},
                  "y": {"field": "y", "type": "quantitative", "scale": {"domain": [0, 1]}, "axis": null}},
     "layer": [
       {"transform": [{"filter": "datum.c==0"}], "mark": {"type": "line", "color": "#BEBEBE", "strokeWidth": 2, "clip": true}},
       {"transform": [{"filter": "datum.c>=1 && datum.c<=5"}], "mark": {"type": "line", "interpolate": "monotone", "strokeWidth": 1, "clip": true}, "encoding": {"color": {"field": "c", "type": "nominal", "legend": null}}},
       {"transform": [{"filter": "datum.c==6"}], "mark": {"type": "line", "interpolate": "monotone", "color": "black", "strokeWidth": 2, "clip": true}}
     ]},
    {"title": "Had Sex", "width": 182, "height": 134, "data": {"name": "HadSex"},
     "encoding": {"x": {"field": "x", "type": "quantitative", "title": null, "scale": {"domain": [0.5727, 0.9373], "nice": false, "zero": false}, "axis": {"values": [0.6, 0.65, 0.7, 0.75, 0.8, 0.85, 0.9], "format": ".2f"}},
                  "y": {"field": "y", "type": "quantitative", "scale": {"domain": [0, 1]}, "axis": null}},
     "layer": [
       {"transform": [{"filter": "datum.c==0"}], "mark": {"type": "line", "color": "#BEBEBE", "strokeWidth": 2, "clip": true}},
       {"transform": [{"filter": "datum.c>=1 && datum.c<=5"}], "mark": {"type": "line", "interpolate": "monotone", "strokeWidth": 1, "clip": true}, "encoding": {"color": {"field": "c", "type": "nominal", "legend": null}}},
       {"transform": [{"filter": "datum.c==6"}], "mark": {"type": "line", "interpolate": "monotone", "color": "black", "strokeWidth": 2, "clip": true}}
     ]}
  ],
  "config": {
    "background": "white",
    "font": "Liberation Sans",
    "view": {"stroke": "black", "strokeWidth": 1},
    "range": {"category": ["#FF0000", "#00CD00", "#0000FF", "#00FFFF", "#FF00FF"]},
    "title": {"fontSize": 11, "fontWeight": "bold", "font": "Liberation Sans", "color": "black", "offset": 5},
    "axis": {"domain": false, "grid": false, "tickColor": "black", "tickSize": 5, "tickWidth": 1, "labelFont": "Liberation Sans", "labelFontSize": 9, "labelColor": "black", "labelPadding": 5.5, "labelFlush": false, "labelOverlap": false, "labelBound": false}
  }
}
